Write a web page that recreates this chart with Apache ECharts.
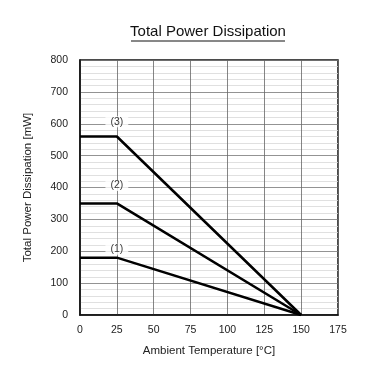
<!DOCTYPE html>
<html><head><meta charset="utf-8">
<script src="https://cdn.jsdelivr.net/npm/echarts@6/dist/echarts.min.js"></script>
<style>html,body{margin:0;padding:0;background:#fff}#c{width:378px;height:380px}</style>
</head><body><div id="c"></div>
<script>
const temps = [0, 25, 150];
const curve1 = [180, 180, 0];
const curve2 = [350, 350, 0];
const curve3 = [560, 560, 0];
const curveLabels = ['(1)', '(2)', '(3)'];
const labelX = [25, 25, 25];
const labelY = [200, 400, 600];
const xTicks = [0, 25, 50, 75, 100, 125, 150, 175];

const chart = echarts.init(document.getElementById('c'));
const lineStyle = {color: '#000', width: 2.5};
function mk(vals){ return { type:'line', data: temps.map((t,i)=>[t, vals[i]]), symbol:'none', lineStyle, z:5 }; }
chart.setOption({
  animation:false,
  backgroundColor:'#fff',
  graphic:[
    {type:'text', x:208, y:32, style:{text:'Total Power Dissipation', x:0, y:0, align:'center', verticalAlign:'middle',
      font:'15px "Liberation Sans"', fill:'#111'}},
    {type:'line', shape:{x1:131,y1:41,x2:285,y2:41}, style:{stroke:'#111', lineWidth:1}}],
  grid:{left:80, right:40, top:60, bottom:65, show:true, borderColor:'#111', borderWidth:1.5},
  xAxis:{type:'value', min:0, max:175, interval:25,
    name:'Ambient Temperature [\u00b0C]', nameLocation:'middle', nameGap:30,
    nameTextStyle:{fontFamily:'Liberation Sans', fontSize:11.5, color:'#222'},
    axisLine:{show:true, lineStyle:{color:'#111', width:1.5}}, axisTick:{show:false},
    axisLabel:{fontFamily:'Liberation Sans', fontSize:10.5, color:'#222', margin:10,
      formatter:v=> xTicks.includes(v)? String(v):''},
    splitLine:{show:true, lineStyle:{color:'#666', width:0.8}}},
  yAxis:{type:'value', min:0, max:800, interval:100,
    name:'Total Power Dissipation [mW]', nameLocation:'middle', nameGap:46,
    nameTextStyle:{fontFamily:'Liberation Sans', fontSize:11.5, color:'#222'},
    axisLine:{show:true, lineStyle:{color:'#111', width:1.5}}, axisTick:{show:false},
    axisLabel:{fontFamily:'Liberation Sans', fontSize:10.5, color:'#222', margin:12},
    splitLine:{show:true, lineStyle:{color:'#777', width:0.8}},
    minorTick:{show:false, splitNumber:5},
    minorSplitLine:{show:true, lineStyle:{color:'#d8d8d8', width:0.8}}},
  series:[mk(curve1), mk(curve2), mk(curve3),
    {type:'scatter', symbolSize:0, z:4,
     data: curveLabels.map((l,i)=>({value:[labelX[i], labelY[i]], name:l})),
     label:{show:true, position:'inside', offset:[0,-2], formatter:p=>p.name, fontFamily:'Liberation Sans',
       fontSize:10.5, color:'#000', backgroundColor:'#fff', padding:[0,5]}}]
});
</script></body></html>
